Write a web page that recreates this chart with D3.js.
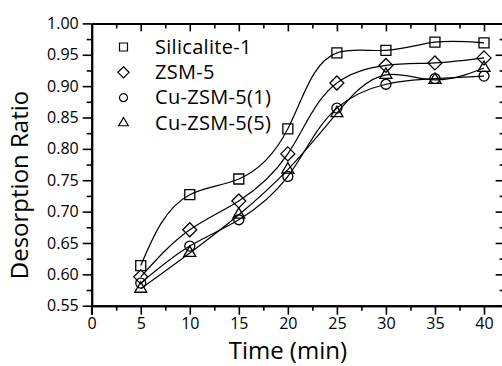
<!DOCTYPE html>
<html>
<head>
<meta charset="utf-8">
<script src="https://cdn.jsdelivr.net/npm/d3@7"></script>
<style>
  html, body { margin: 0; padding: 0; background: #fff; }
  svg { display: block; }
  text { font-family: "Open Sans", "Noto Sans", sans-serif; fill: #000; }
</style>
</head>
<body>
<svg id="chart" width="502" height="366"></svg>
<script>
// ---- data ----
const times = [5, 10, 15, 20, 25, 30, 35, 40];
const silicalite = [0.614, 0.727, 0.752, 0.832, 0.953, 0.957, 0.970, 0.969];
const zsm5 = [0.596, 0.671, 0.717, 0.792, 0.905, 0.933, 0.937, 0.945];
const cuZsm5_1 = [0.586, 0.645, 0.687, 0.756, 0.865, 0.903, 0.912, 0.916];
const cuZsm5_5 = [0.577, 0.634, 0.695, 0.767, 0.857, 0.918, 0.910, 0.929];
const seriesNames = ["Silicalite-1", "ZSM-5", "Cu-ZSM-5(1)", "Cu-ZSM-5(5)"];
const seriesMarkers = ["square", "diamond", "circle", "triangle"];
const xMajorTicks = [0, 5, 10, 15, 20, 25, 30, 35, 40];
const xMinorTicks = [2.5, 7.5, 12.5, 17.5, 22.5, 27.5, 32.5, 37.5];
const yMajorTicks = [0.55, 0.60, 0.65, 0.70, 0.75, 0.80, 0.85, 0.90, 0.95, 1.00];
const yMinorTicks = [0.575, 0.625, 0.675, 0.725, 0.775, 0.825, 0.875, 0.925, 0.975];
const xTitle = "Time (min)";
const yTitle = "Desorption Ratio";

const seriesValues = [silicalite, zsm5, cuZsm5_1, cuZsm5_5];

// ---- layout ----
const svg = d3.select("#chart");
const mLeft = 91.7, mTop = 23.4, mBottom = 305.7;
const x = d3.scaleLinear().domain([0, 42]).range([mLeft, mLeft + 42 * 9.8075]);
const y = d3.scaleLinear().domain([0.55, 1.0]).range([mBottom, mTop]);
const mRight = x(42);

// ---- custom d3 curve: chord-length parametric natural cubic spline ----
function naturalCoeffs(t, v) {
  const n = v.length - 1;
  const M = new Array(n + 1).fill(0);
  if (n < 2) return M;
  const h = [];
  for (let i = 0; i < n; i++) h.push(t[i + 1] - t[i]);
  const a = [], b = [], c = [], r = [];
  for (let i = 1; i < n; i++) {
    a.push(h[i - 1]);
    b.push(2 * (h[i - 1] + h[i]));
    c.push(h[i]);
    r.push(6 * ((v[i + 1] - v[i]) / h[i] - (v[i] - v[i - 1]) / h[i - 1]));
  }
  const m = b.length;
  for (let i = 1; i < m; i++) {
    const w = a[i] / b[i - 1];
    b[i] -= w * c[i - 1];
    r[i] -= w * r[i - 1];
  }
  const sol = new Array(m);
  sol[m - 1] = r[m - 1] / b[m - 1];
  for (let i = m - 2; i >= 0; i--) sol[i] = (r[i] - c[i] * sol[i + 1]) / b[i];
  for (let i = 1; i < n; i++) M[i] = sol[i - 1];
  return M;
}
function ChordSpline(context) { this._context = context; }
ChordSpline.prototype = {
  areaStart() { this._line = 0; },
  areaEnd() { this._line = NaN; },
  lineStart() { this._px = []; this._py = []; },
  point(px, py) { this._px.push(+px); this._py.push(+py); },
  lineEnd() {
    const X = this._px, Y = this._py, n = X.length - 1, ctx = this._context;
    if (n < 0) return;
    ctx.moveTo(X[0], Y[0]);
    if (n === 0) return;
    const t = [0];
    for (let i = 1; i <= n; i++) t.push(t[i - 1] + Math.hypot(X[i] - X[i - 1], Y[i] - Y[i - 1]));
    const MX = naturalCoeffs(t, X), MY = naturalCoeffs(t, Y);
    for (let i = 0; i < n; i++) {
      const h = t[i + 1] - t[i];
      const dX0 = (X[i + 1] - X[i]) / h - h * (2 * MX[i] + MX[i + 1]) / 6;
      const dX1 = (X[i + 1] - X[i]) / h + h * (MX[i] + 2 * MX[i + 1]) / 6;
      const dY0 = (Y[i + 1] - Y[i]) / h - h * (2 * MY[i] + MY[i + 1]) / 6;
      const dY1 = (Y[i + 1] - Y[i]) / h + h * (MY[i] + 2 * MY[i + 1]) / 6;
      ctx.bezierCurveTo(
        X[i] + h / 3 * dX0, Y[i] + h / 3 * dY0,
        X[i + 1] - h / 3 * dX1, Y[i + 1] - h / 3 * dY1,
        X[i + 1], Y[i + 1]);
    }
  }
};
const chordSpline = context => new ChordSpline(context);

// marker path generator
function markerPath(type, s) {
  const p = d3.path();
  if (type === "square") {
    p.rect(-s / 2, -s / 2, s, s);
  } else if (type === "diamond") {
    const r = s * 0.7;
    p.moveTo(0, -r); p.lineTo(r, 0); p.lineTo(0, r); p.lineTo(-r, 0); p.closePath();
  } else if (type === "circle") {
    p.arc(0, 0, s / 2, 0, 2 * Math.PI);
  } else if (type === "triangle") {
    const w = s * 1.2, h = w * Math.sqrt(3) / 2;
    p.moveTo(0, -h * 2 / 3); p.lineTo(w / 2, h / 3); p.lineTo(-w / 2, h / 3); p.closePath();
  }
  return p.toString();
}

// ---- curves ----
const line = d3.line()
  .x(d => x(d[0]))
  .y(d => y(d[1]))
  .curve(chordSpline);

const plot = svg.append("g");
seriesValues.forEach((vals, i) => {
  const pts = times.map((t, j) => [t, vals[j]]);
  plot.append("path")
    .attr("d", line(pts))
    .attr("fill", "none")
    .attr("stroke", "#000")
    .attr("stroke-width", 1.2);
  plot.selectAll(null)
    .data(pts)
    .enter()
    .append("path")
    .attr("transform", d => `translate(${x(d[0])},${y(d[1])})`)
    .attr("d", markerPath(seriesMarkers[i], 10))
    .attr("fill", "none")
    .attr("stroke", "#000")
    .attr("stroke-width", 1.3);
});

// ---- axes ----
function styleAxis(g) {
  g.select(".domain").attr("stroke-width", 2);
  g.selectAll(".tick line").attr("stroke-width", 1.6);
  g.selectAll(".tick text")
    .style("font-family", '"Open Sans", "Noto Sans", sans-serif')
    .style("font-size", "16px");
}

// bottom: major with labels, outward
svg.append("g")
  .attr("transform", `translate(0,${mBottom})`)
  .call(d3.axisBottom(x).tickValues(xMajorTicks).tickSize(9).tickSizeOuter(0).tickPadding(3).tickFormat(d3.format("d")))
  .call(styleAxis);
svg.append("g")
  .attr("transform", `translate(0,${mBottom})`)
  .call(d3.axisBottom(x).tickValues(xMinorTicks).tickSize(5).tickSizeOuter(0).tickFormat(""))
  .call(styleAxis);

// top: inward ticks, no labels
svg.append("g")
  .attr("transform", `translate(0,${mTop})`)
  .call(d3.axisBottom(x).tickValues(xMajorTicks.filter(v => v > 0)).tickSize(8).tickSizeOuter(0).tickFormat(""))
  .call(styleAxis);
svg.append("g")
  .attr("transform", `translate(0,${mTop})`)
  .call(d3.axisBottom(x).tickValues(xMinorTicks).tickSize(5).tickSizeOuter(0).tickFormat(""))
  .call(styleAxis);

// left: outward with labels
svg.append("g")
  .attr("transform", `translate(${mLeft},0)`)
  .call(d3.axisLeft(y).tickValues(yMajorTicks).tickSize(9).tickSizeOuter(0).tickPadding(4).tickFormat(d3.format(".2f")))
  .call(styleAxis);
svg.append("g")
  .attr("transform", `translate(${mLeft},0)`)
  .call(d3.axisLeft(y).tickValues(yMinorTicks).tickSize(5).tickSizeOuter(0).tickFormat(""))
  .call(styleAxis);

// right: inward
svg.append("g")
  .attr("transform", `translate(${mRight},0)`)
  .call(d3.axisLeft(y).tickValues(yMajorTicks).tickSize(8).tickSizeOuter(0).tickFormat(""))
  .call(styleAxis);
svg.append("g")
  .attr("transform", `translate(${mRight},0)`)
  .call(d3.axisLeft(y).tickValues(yMinorTicks).tickSize(4).tickSizeOuter(0).tickFormat(""))
  .call(styleAxis);

// left axis extends slightly below the bottom axis as in reference
svg.append("line")
  .attr("x1", mLeft).attr("x2", mLeft)
  .attr("y1", mBottom).attr("y2", mBottom + 9)
  .attr("stroke", "#000").attr("stroke-width", 1.6);

// ---- titles ----
svg.append("text")
  .attr("x", x(20))
  .attr("y", 359)
  .attr("text-anchor", "middle")
  .style("font-size", "24px")
  .text(xTitle);

svg.append("text")
  .attr("transform", `translate(28,${185}) rotate(-90)`)
  .attr("text-anchor", "middle")
  .style("font-size", "24px")
  .text(yTitle);

// ---- legend ----
const legend = svg.append("g");
const legendRowY = d3.scalePoint().domain(seriesNames).range([47, 123]);
seriesNames.forEach((name, i) => {
  const cy = legendRowY(name);
  legend.append("path")
    .attr("transform", `translate(123.5,${cy})`)
    .attr("d", markerPath(seriesMarkers[i], 8))
    .attr("fill", "none")
    .attr("stroke", "#000")
    .attr("stroke-width", 1.2);
  legend.append("text")
    .attr("x", 155)
    .attr("y", cy + 6.5)
    .style("font-size", "20px")
    .style("letter-spacing", "0.3px")
    .text(name);
});
</script>
</body>
</html>
